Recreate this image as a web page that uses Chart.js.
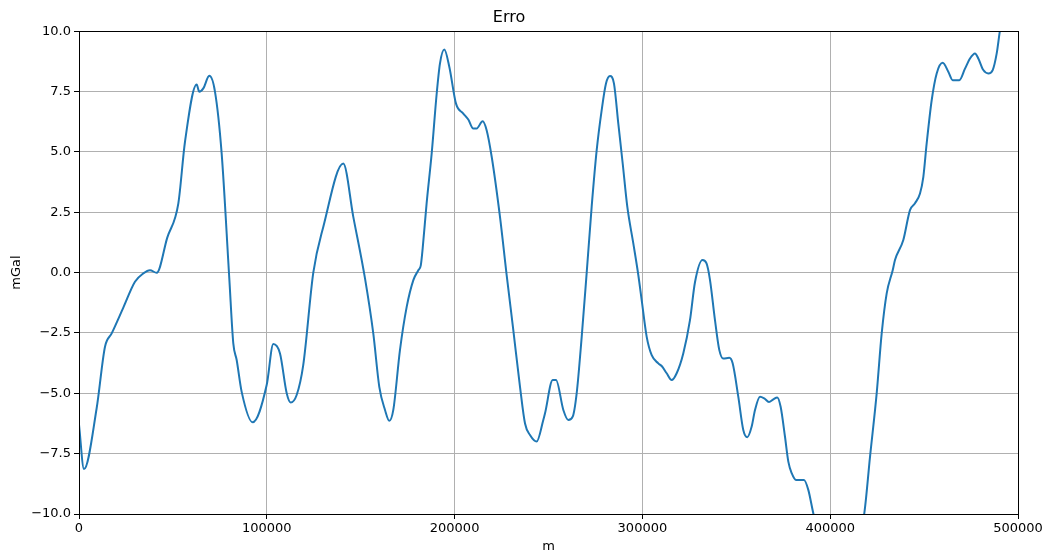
<!DOCTYPE html>
<html>
<head>
<meta charset="utf-8">
<script src="https://cdn.jsdelivr.net/npm/chart.js@4/dist/chart.umd.min.js"></script>
<style>
  body { margin: 0; background: #fff; }
  #wrap { width: 1045px; height: 554px; }
</style>
</head>
<body>
<div id="wrap"><canvas id="g-erro" width="1045" height="554"></canvas></div>
<script>
// Erro ao longo do perfil (m x mGal)
const distancias = [
  0, 2660, 9400, 13840, 17400, 23600, 29800, 34240, 37800, 41370, 47000, 52900, 56440, 62650, 64060, 66190,
  69380, 72420, 75960, 80030, 82160, 83960, 86620, 92480, 99930, 103470, 107030, 110600,
  112700, 115900, 119400, 124760, 130100, 140730, 146060, 152290, 156700, 159900, 162940,
  165240, 167360, 170920, 174490, 178030, 180700, 182000, 183000, 185100, 187800, 190470,
  192200, 194500, 197200, 200750, 204620, 207300, 209950, 211730, 214930, 217060, 219750,
  224170, 227720, 231260, 234830, 237500, 240150, 243710, 247230, 248150, 252240, 254000,
  257900, 260550, 262880, 265000, 267680, 270340, 272990, 275660, 278320, 280610, 282740,
  284870, 287160, 289510, 291960, 295160, 297820, 299620, 302290, 304950, 308460, 310270,
  312930, 315590, 318250, 321760, 325330, 328000, 332000, 334150, 335980, 338650, 340930,
  343080, 346270, 348060, 351060, 353720, 355850, 358190, 359960, 362620, 364900, 367410,
  369700, 371830, 373610, 375930, 377700, 379500, 381800, 386050, 388340, 391000, 396000,
  405000, 414000, 418150, 421200, 424750, 427420, 430080, 433280, 434500, 438930, 442490,
  445150, 447820, 449600, 451370, 454040, 456700, 459900, 462890, 465230, 468740, 471780,
  474440, 477100, 478870, 481540, 484200, 486530, 488660, 490410, 494000
];
const erro = [
  -6.3, -8.14, -5.62, -3.07, -2.52, -1.45, -0.38, -0.03, 0.1, -0.01, 1.45, 2.87, 5.42, 7.79, 7.49, 7.63,
  8.15, 7.49, 4.94, -0.24, -2.93, -3.62, -4.94, -6.2, -4.66, -2.96, -3.35, -5.0,
  -5.38, -5.07, -3.83, 0.0, 1.9, 4.52, 2.31, -0.24, -2.52, -4.73, -5.69,
  -6.14, -5.69, -3.2, -1.42, -0.31, 0.1, 0.3, 1.0, 2.87, 4.94, 7.42,
  8.66, 9.24, 8.52, 7.0, 6.59, 6.34, 5.97, 5.97, 6.27, 5.9, 4.8,
  2.31, -0.1, -2.38, -4.73, -6.25, -6.73, -7.0, -6.11, -5.83, -4.45, -4.45,
  -5.69, -6.11, -5.97, -5.0, -2.66, 0.0, 2.73, 5.07, 6.73, 7.83, 8.14,
  7.83, 6.18, 4.52, 2.73, 1.21, -0.1, -1.14, -2.66, -3.42, -3.76, -3.87,
  -4.17, -4.45, -4.17, -3.35, -1.97, -0.4, 0.52, 0.38, -0.3, -1.97, -3.2,
  -3.56, -3.53, -3.76, -5.14, -6.52, -6.82, -6.38, -5.69, -5.14, -5.21, -5.36,
  -5.25, -5.17, -5.56, -6.8, -7.83, -8.31, -8.59, -8.59, -9.0, -9.97, -11.5,
  -12.5, -11.3, -9.97, -7.63, -5.0, -2.52, -0.86, 0.1, 0.52, 1.35, 2.59,
  2.87, 3.28, 3.97, 5.35, 7.14, 8.25, 8.69, 8.32, 7.97, 7.97, 8.45,
  8.87, 9.08, 8.87, 8.39, 8.25, 8.39, 9.08, 10.04, 11.5
];
const ticksX = [0, 100000, 200000, 300000, 400000, 500000];
const ticksY = [-10, -7.5, -5, -2.5, 0, 2.5, 5, 7.5, 10];

const fonte = "'DejaVu Sans', sans-serif";
const menos = v => String(v).replace("-", "\u2212");

// moldura nos quatro lados, como no matplotlib
const moldura = {
  id: "moldura",
  afterDatasetsDraw(chart) {
    const a = chart.chartArea, ctx = chart.ctx;
    ctx.save();
    ctx.strokeStyle = "#000";
    ctx.lineWidth = 1;
    ctx.strokeRect(Math.round(a.left) + 0.5, Math.round(a.top) + 0.5,
      Math.round(a.right - a.left), Math.round(a.bottom - a.top));
    ctx.restore();
  }
};

new Chart(document.getElementById("g-erro"), {
  type: "line",
  data: {
    datasets: [{
      data: distancias.map((d, i) => ({ x: d, y: erro[i] })),
      borderColor: "#1f77b4", borderWidth: 2, pointRadius: 0,
      cubicInterpolationMode: "monotone", fill: false
    }]
  },
  options: {
    responsive: false, animation: false,
    layout: { padding: { left: 0, right: 27, top: 0, bottom: 0 } },
    plugins: {
      legend: { display: false }, tooltip: { enabled: false },
      title: { display: true, text: "Erro", color: "#000", font: { family: fonte, size: 16, weight: "normal" }, padding: { top: 8, bottom: 4 } }
    },
    scales: {
      x: {
        type: "linear", min: 0, max: 500000,
        afterBuildTicks: s => { s.ticks = ticksX.map(v => ({ value: v })); },
        afterFit: s => { s.height = 40; },
        ticks: { color: "#000", font: { family: fonte, size: 13 }, maxRotation: 0, padding: 2, callback: v => String(v) },
        grid: { color: "#b0b0b0", lineWidth: 1, tickColor: "#000", tickLength: 5 },
        border: { color: "#000" },
        title: { display: true, text: "m", color: "#000", font: { family: fonte, size: 13 }, padding: { top: 0, bottom: 0 } }
      },
      y: {
        min: -10, max: 10,
        afterBuildTicks: s => { s.ticks = ticksY.map(v => ({ value: v })); },
        afterFit: s => { s.width = 79; },
        ticks: { color: "#000", font: { family: fonte, size: 13 }, padding: 3, callback: v => menos(v.toFixed(1)) },
        grid: { color: "#b0b0b0", lineWidth: 1, tickColor: "#000", tickLength: 5 },
        border: { color: "#000" },
        title: { display: true, text: "mGal", color: "#000", font: { family: fonte, size: 13 }, padding: { top: 9, bottom: 4 } }
      }
    }
  },
  plugins: [moldura]
});
</script>
</body>
</html>
